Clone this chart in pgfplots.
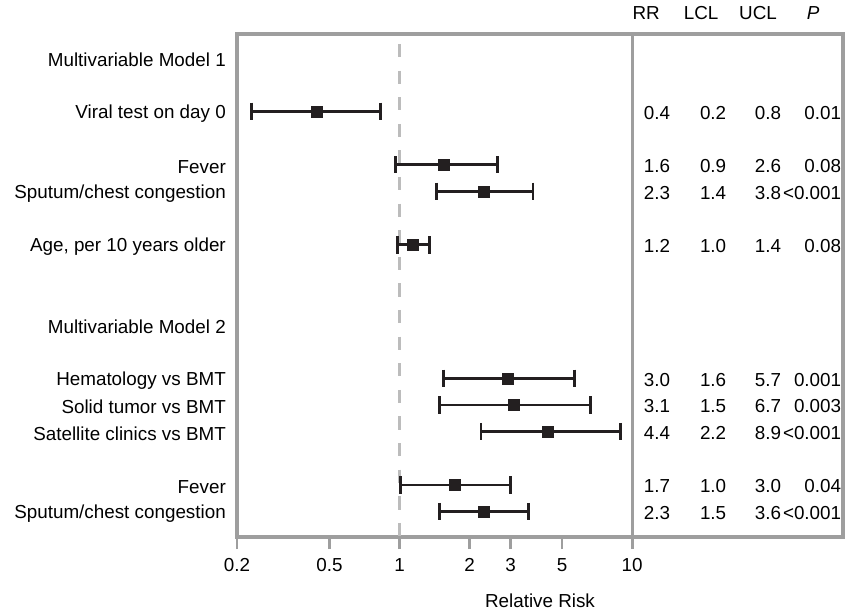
\documentclass[border=0pt]{standalone}
\usepackage{pgfplots}
\pgfplotsset{compat=1.18}
\usepackage{pgfplotstable}
\usepackage{fontspec}
\setmainfont{Liberation Sans}
\definecolor{framec}{RGB}{158,158,158}
\definecolor{dashc}{RGB}{188,188,188}
\definecolor{cic}{RGB}{35,31,32}

% y = - row index (rows counted from top)
\pgfplotstableread{
y rr lcl ucl tRR tLCL tUCL tP
-2 0.44 0.23 0.83 0.4 0.2 0.8 0.01
-4 1.55 0.96 2.63 1.6 0.9 2.6 0.08
-5 2.31 1.44 3.75 2.3 1.4 3.8 <0.001
-7 1.14 0.98 1.35 1.2 1.0 1.4 0.08
-12 2.93 1.54 5.63 3.0 1.6 5.7 0.001
-13 3.11 1.48 6.60 3.1 1.5 6.7 0.003
-14 4.35 2.24 8.88 4.4 2.2 8.9 <0.001
-16 1.73 1.01 2.99 1.7 1.0 3.0 0.04
-17 2.31 1.49 3.60 2.3 1.5 3.6 <0.001
}\data

\pgfplotstableread[col sep=semicolon]{
y;label
0;Multivariable Model 1
-2;Viral test on day 0
-4;Fever
-5;Sputum/chest congestion
-7;Age, per 10 years older
-10;Multivariable Model 2
-12;Hematology vs BMT
-13;Solid tumor vs BMT
-14;Satellite clinics vs BMT
-16;Fever
-17;Sputum/chest congestion
}\labels

\pgfplotstableread{
x y
0.23 -2
0.83 -2
nan nan
0.96 -4
2.63 -4
nan nan
1.44 -5
3.75 -5
nan nan
0.98 -7
1.35 -7
nan nan
1.54 -12
5.63 -12
nan nan
1.48 -13
6.60 -13
nan nan
2.24 -14
8.88 -14
nan nan
1.01 -16
2.99 -16
nan nan
1.49 -17
3.60 -17
}\cis

\begin{document}
\fontsize{18.9}{22}\selectfont
\begin{tikzpicture}
\begin{axis}[
  name=ax,
  scale only axis, width=606bp, height=503bp,
  xmode=log, log basis x=10, xmin=0.2, xmax=80.7,
  ymin=-17.95, ymax=0.9,
  clip=false,
  axis line style={draw=framec, line width=3.2bp},
  xtick={0.2,0.5,1,2,3,5,10},
  xticklabels={0.2,0.5,1,2,3,5,10},
  xtick pos=left, tick align=outside,
  tick style={draw=framec, line width=2.8bp},
  major tick length=12bp,
  xminorticks=false,
  xticklabel style={yshift=-3bp},
  ytick=\empty,
  xlabel={Relative Risk},
  xlabel style={yshift=-9bp},
  font=\fontsize{18.9}{22}\selectfont,
]
% reference line at RR = 1
\addplot[dashc, line width=2.8bp, dash pattern=on 13.3bp off 13.3bp, dash phase=16.6bp] coordinates {(1,0.9) (1,-17.95)};
% separator line at 10
\addplot[framec, line width=3bp] coordinates {(10,0.9) (10,-17.95)};
% confidence intervals
\addplot[cic, line width=2.7bp, mark=|, mark size=8.7bp, mark options={solid, line width=2.9bp}, unbounded coords=jump] table[x=x, y=y] {\cis};
% point estimates
\addplot[only marks, mark=square*, mark size=5.5bp, mark options={draw=cic, fill=cic}] table[x=rr, y=y] {\data};
% row labels
\addplot[draw=none, mark=none, nodes near coords, point meta=explicit symbolic,
  every node near coord/.style={anchor=east, black, inner sep=0pt, xshift=-11bp, yshift=-2bp}] table[x expr=0.2, y=y, meta=label] {\labels};
% table columns
\addplot[draw=none, mark=none, nodes near coords, point meta=explicit symbolic,
  every node near coord/.style={anchor=center, black, inner sep=0pt, yshift=-1.5bp}] table[x expr=12.8, y=y, meta=tRR] {\data};
\addplot[draw=none, mark=none, nodes near coords, point meta=explicit symbolic,
  every node near coord/.style={anchor=center, black, inner sep=0pt, yshift=-1.5bp}] table[x expr=22.3, y=y, meta=tLCL] {\data};
\addplot[draw=none, mark=none, nodes near coords, point meta=explicit symbolic,
  every node near coord/.style={anchor=center, black, inner sep=0pt, yshift=-1.5bp}] table[x expr=38.4, y=y, meta=tUCL] {\data};
\addplot[draw=none, mark=none, nodes near coords, point meta=explicit symbolic,
  every node near coord/.style={anchor=east, black, inner sep=0pt, yshift=-1.5bp}] table[x expr=79.4, y=y, meta=tP] {\data};
% headers
\node[inner sep=0pt] at (axis cs:11.5,1.68) {RR};
\node[inner sep=0pt] at (axis cs:19.8,1.68) {LCL};
\node[inner sep=0pt] at (axis cs:34.8,1.68) {UCL};
\node[inner sep=0pt] at (axis cs:60,1.68) {\textit{P}};
\end{axis}
\pgfresetboundingbox
\path ([shift={(-237bp,-75bp)}]ax.south west) rectangle ([shift={(2bp,34bp)}]ax.north east);
\end{tikzpicture}
\end{document}
